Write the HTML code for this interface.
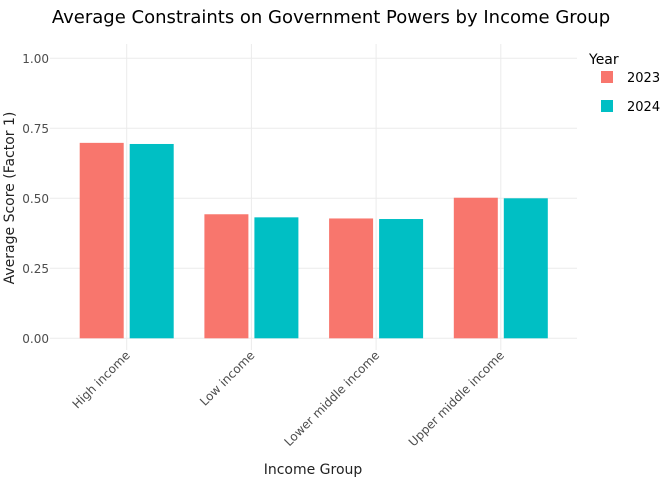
<!DOCTYPE html>
<html><head><meta charset="utf-8"><style>
body{margin:0;background:#fff;font-family:"DejaVu Sans","Liberation Sans",sans-serif;}
svg{display:block}
</style></head><body>
<svg id="chart" width="672" height="480">
<text x="331" y="23" text-anchor="middle" font-size="18" fill="#000">Average Constraints on Government Powers by Income Group</text>
<g id="grid"></g><g id="bars"></g><g id="axes"></g>
<text x="313" y="474" text-anchor="middle" font-size="14" fill="#222">Income Group</text>
<text transform="translate(14,198) rotate(-90)" text-anchor="middle" font-size="14" fill="#222">Average Score (Factor 1)</text>
<g>
<text x="589" y="64" font-size="14" fill="#000">Year</text>
<rect x="601" y="71" width="12" height="12" fill="#F8766D"/>
<text x="627" y="82" font-size="13" fill="#000">2023</text>
<rect x="601" y="100" width="12" height="12" fill="#00BFC4"/>
<text x="627" y="111" font-size="13" fill="#000">2024</text>
</g>
</svg>
<script>
const categories=["High income","Low income","Lower middle income","Upper middle income"];
const series2023=[0.698,0.443,0.428,0.502];
const series2024=[0.694,0.432,0.426,0.500];
const yTicks=[0,0.25,0.5,0.75,1];
const yTickLabels=["0.00","0.25","0.50","0.75","1.00"];
const NS="http://www.w3.org/2000/svg";
const L=50,R=577,T=58.3,B=338.3;
const step=124.7,first=126.7;
function x(i){return first+i*step;}
function y(v){return B-(v/1)*(B-T);}
function mk(tag,attrs,parent,text){const e=document.createElementNS(NS,tag);for(const k in attrs)e.setAttribute(k,attrs[k]);if(text!==undefined)e.textContent=text;parent.appendChild(e);return e;}
const grid=document.getElementById('grid'),bars=document.getElementById('bars'),axes=document.getElementById('axes');
yTicks.forEach((t,i)=>{
  const g=mk('line',{x1:L,x2:R,y1:y(t),y2:y(t),stroke:'#ebebeb','stroke-width':1},grid);
  
  
  const tx=mk('text',{x:49,y:y(t)+4.5,'text-anchor':'end','font-size':12,fill:'#4d4d4d'},axes,yTickLabels[i]);
  
  
});
categories.forEach((c,i)=>{
  const g=mk('line',{x1:x(i),x2:x(i),y1:44,y2:350,stroke:'#ebebeb','stroke-width':1},grid);
  
  
  const w=44,gap=6;
  const b1=mk('rect',{x:x(i)-gap/2-w,y:y(series2023[i]),width:w,height:B-y(series2023[i]),fill:'#F8766D'},bars);
  
  
  const b2=mk('rect',{x:x(i)+gap/2,y:y(series2024[i]),width:w,height:B-y(series2024[i]),fill:'#00BFC4'},bars);
  
  
  const tx=mk('text',{transform:`translate(${x(i)+4},${356}) rotate(-45)`,'text-anchor':'end','font-size':12,fill:'#4d4d4d'},axes,c);
  
  
});
</script>
</body></html>
